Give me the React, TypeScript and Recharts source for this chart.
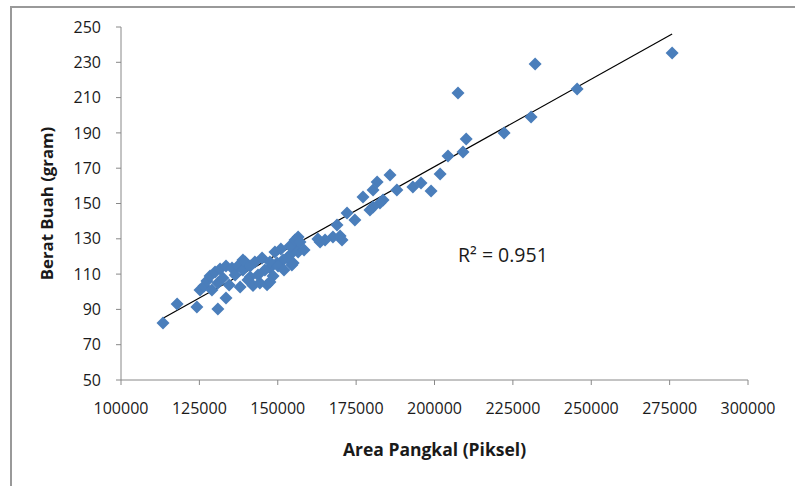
import React from 'react';
import { ScatterChart, Scatter, XAxis, YAxis, ReferenceLine, ReferenceDot } from 'recharts';

// area pangkal (piksel) vs berat buah (gram)
const areaPangkal = [
  275800, 232100, 207500, 245500, 230800, 222200, 210100, 209100, 204300, 201800,
  198900, 195700, 193100, 188000, 185800, 181700, 180400, 183600, 182600, 180400,
  177200, 179400, 174600, 172100, 168900, 170500, 167600, 165100, 163500, 169900,
  156500, 154900, 153900, 154900, 151700, 149800, 147500, 141200, 138900,
  113400, 117900, 124200, 130900, 133500, 125200, 126500, 127400, 128400, 129000,
  130000, 130900, 131600, 132500, 133500, 134500, 135400, 136400, 137300, 138000,
  138900, 139600, 140500, 141200, 142100, 142700, 143700, 144300, 145000, 145900,
  146600, 147500, 148500, 149100, 150100, 151000, 152000, 153000, 153900, 154500,
  155500, 156500, 157100, 158400, 147500, 162800,
];
const beratBuah = [
  235.3, 229.0, 212.6, 214.9, 199.0, 190.0, 186.6, 179.2, 176.9, 166.7,
  157.1, 161.6, 159.4, 157.7, 166.2, 162.2, 157.7, 152.0, 150.3, 148.0,
  153.7, 146.3, 140.7, 144.6, 137.8, 129.3, 131.0, 129.3, 128.2, 131.6,
  131.0, 125.4, 120.8, 116.3, 118.0, 116.3, 113.5, 108.4, 118.0,
  82.3, 93.1, 91.4, 90.2, 96.5, 101.0, 103.3, 106.1, 108.9, 101.0,
  111.2, 105.0, 112.9, 107.8, 114.6, 103.8, 113.5, 109.5, 114.6, 102.7,
  112.3, 116.9, 106.7, 114.6, 103.5, 116.9, 109.5, 105.0, 119.1, 112.3,
  104.0, 116.9, 108.9, 122.5, 114.6, 124.2, 112.3, 119.1, 125.9, 115.2,
  129.3, 122.5, 128.2, 123.7, 105.5, 129.9,
];

const xTicks = [100000, 125000, 150000, 175000, 200000, 225000, 250000, 275000, 300000];
const yTicks = [50, 70, 90, 110, 130, 150, 170, 190, 210, 230, 250];

// linear trendline ends
const trendX = [113400, 275800];
const trendY = [85, 246];
const rSquared = 'R² = 0.951';

const points = areaPangkal.map((x, i) => ({ x, y: beratBuah[i] }));

const FONT = '"Open Sans", sans-serif';
const AXIS = '#888888';
const TEXT = '#1a1a1a';

const Diamond = (props: any) => {
  const { cx, cy } = props;
  const r = 6.5;
  return (
    <polygon
      points={`${cx},${cy - r} ${cx + r},${cy} ${cx},${cy + r} ${cx - r},${cy}`}
      fill="#4A7EBB"
    />
  );
};

export default function App() {
  return (
    <div style={{ position: 'absolute', left: 0, top: 0, width: 795, height: 486, overflow: 'hidden', background: '#fff' }}>
      <div
        style={{
          position: 'absolute', left: 10, top: 6, width: 900, height: 600,
          borderTop: '2px solid #999', borderLeft: '2px solid #999',
        }}
      />
      <div style={{ position: 'absolute', left: 0, top: 0 }}>
        <ScatterChart width={795} height={486} margin={{ top: 27, right: 47, left: 0, bottom: 0 }}>
          <XAxis
            type="number"
            dataKey="x"
            domain={[100000, 300000]}
            ticks={xTicks}
            interval={0}
            height={106}
            tickSize={5}
            tickMargin={18}
            stroke={AXIS}
            tick={{ fill: TEXT, fontSize: 16, fontFamily: FONT }}
            label={{
              value: 'Area Pangkal (Piksel)', position: 'insideBottom', offset: 30,
              style: { fill: TEXT, fontSize: 17.5, fontWeight: 700, fontFamily: FONT },
            }}
          />
          <YAxis
            type="number"
            dataKey="y"
            domain={[50, 250]}
            ticks={yTicks}
            interval={0}
            width={121}
            tickSize={5}
            tickMargin={15}
            stroke={AXIS}
            tick={{ fill: TEXT, fontSize: 16, fontFamily: FONT }}
            label={{
              value: 'Berat Buah (gram)', angle: -90, position: 'insideLeft', offset: 47,
              style: { textAnchor: 'middle', fill: TEXT, fontSize: 16.8, fontWeight: 700, fontFamily: FONT },
            }}
          />
          <Scatter data={points} shape={Diamond} isAnimationActive={false} />
          <ReferenceLine
            segment={[{ x: trendX[0], y: trendY[0] }, { x: trendX[1], y: trendY[1] }]}
            stroke="#000"
            strokeWidth={1.2}
          />
          <ReferenceDot
            x={207500}
            y={120.5}
            r={0}
            stroke="none"
            fill="none"
            label={{ value: rSquared, position: 'right', offset: 0, fill: TEXT, fontSize: 19.5, fontFamily: FONT }}
          />
        </ScatterChart>
      </div>
    </div>
  );
}
